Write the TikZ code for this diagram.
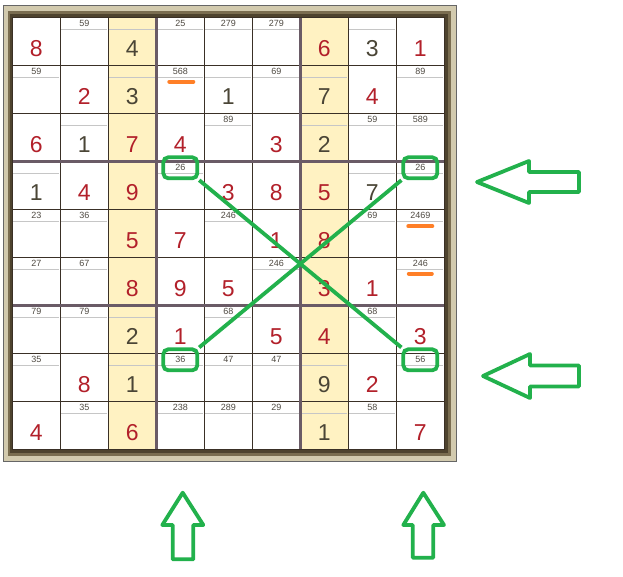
\documentclass[tikz,border=0pt]{standalone}
\usepackage{fontspec}
\setmainfont{Liberation Sans}

\definecolor{solvedred}{HTML}{B2202A}
\definecolor{givengray}{HTML}{4A4536}
\definecolor{candgray}{HTML}{4F4A42}
\definecolor{pairgreen}{HTML}{22B14C}
\definecolor{markorange}{HTML}{FF7F27}
\definecolor{colyellow}{HTML}{FFF2C2}
\definecolor{boxline}{HTML}{6A5B66}
\definecolor{cellline}{HTML}{3A3026}
\definecolor{framelight}{HTML}{D2CAAE}
\definecolor{framedark}{HTML}{7A6D50}
\definecolor{framedeep}{HTML}{4E432E}

\begin{document}
\begin{tikzpicture}[x=1pt, y=-1pt,
    solved/.style={text=solvedred, inner sep=0pt, font=\fontsize{23}{23}\selectfont},
    given/.style={text=givengray, inner sep=0pt, font=\fontsize{23}{23}\selectfont},
    cand/.style={text=candgray, inner sep=0pt, font=\fontsize{9}{9}\selectfont},
    candline/.style={draw=gray!45, line width=1pt},
    thinline/.style={draw=cellline, line width=1.3pt},
    thickline/.style={draw=boxline, line width=2.6pt},
    pairbox/.style={draw=pairgreen, line width=3.8pt, rounded corners=5pt,
        minimum width=34pt, minimum height=21pt, inner sep=0pt},
    pairline/.style={draw=pairgreen, line width=3.8pt},
    oddmark/.style={draw=markorange, line width=4pt, line cap=round},
    hintarrow/.style={draw=pairgreen, line width=3.8pt, line join=round, fill=white}]

    \useasboundingbox (0,0) rectangle (623,576);
    \def\gx{12.3}
    \def\gy{17.3}
    \def\cs{48}

    % Frame round the board
    \fill[framelight, draw=gray!80!black, line width=0.8pt] (3,5.5) rectangle (456,461);
    \fill[framedark] (8,11) rectangle (450.7,456);
    \fill[framedeep] (10,14) rectangle (447.5,452.5);
    \fill[white] (\gx,\gy) rectangle ++(432,432);

    % Shaded columns
    \fill[colyellow] ({\gx+2*\cs},\gy) rectangle ++(\cs,432);
    \fill[colyellow] ({\gx+6*\cs},\gy) rectangle ++(\cs,432);

    % Candidates
    \foreach \row/\col/\val in {0/1/59, 0/3/25, 0/4/279, 0/5/279, 1/0/59, 1/3/568,
        1/5/69, 1/8/89, 2/4/89, 2/7/59, 2/8/589, 3/3/26, 3/8/26, 4/0/23, 4/1/36,
        4/4/246, 4/7/69, 4/8/2469, 5/0/27, 5/1/67, 5/5/246, 5/8/246, 6/0/79,
        6/1/79, 6/4/68, 6/7/68, 7/0/35, 7/3/36, 7/4/47, 7/5/47, 7/8/56, 8/1/35,
        8/3/238, 8/4/289, 8/5/29, 8/7/58} {
        \draw[candline] ({\gx+\cs*\col+1},{\gy+\cs*\row+12}) -- ++(46,0);
        \node[cand] (k\row\col) at ({\gx+\cs*\col+24},{\gy+\cs*\row+6.5}) {\val};
    }

    % Given digits
    \foreach \row/\col/\val in {0/2/4, 0/7/3, 1/2/3, 1/4/1, 1/6/7, 2/1/1, 2/6/2,
        3/0/1, 3/7/7, 6/2/2, 7/2/1, 7/6/9, 8/6/1} {
        \draw[candline] ({\gx+\cs*\col+1},{\gy+\cs*\row+12}) -- ++(46,0);
        \node[given] (d\row\col) at ({\gx+\cs*\col+24},{\gy+\cs*\row+31}) {\val};
    }

    % Solved digits
    \foreach \row/\col/\val in {0/0/8, 0/6/6, 0/8/1, 1/1/2, 1/7/4, 2/0/6, 2/2/7,
        2/3/4, 2/5/3, 3/1/4, 3/2/9, 3/4/3, 3/5/8, 3/6/5, 4/2/5, 4/3/7, 4/5/1,
        4/6/8, 5/2/8, 5/3/9, 5/4/5, 5/6/3, 5/7/1, 6/3/1, 6/5/5, 6/6/4, 6/8/3,
        7/1/8, 7/7/2, 8/0/4, 8/2/6, 8/8/7} {
        \node[solved] (d\row\col) at ({\gx+\cs*\col+24},{\gy+\cs*\row+31}) {\val};
    }

    % Grid lines
    \foreach \i in {1,2,4,5,7,8} {
        \draw[thinline] ({\gx+\cs*\i},\gy) -- ++(0,432);
        \draw[thinline] (\gx,{\gy+\cs*\i}) -- ++(432,0);
    }
    \foreach \i in {3,6} {
        \draw[thickline] ({\gx+\cs*\i},\gy) -- ++(0,432);
        \draw[thickline] (\gx,{\gy+\cs*\i}) -- ++(432,0);
    }
    \draw[thinline] (\gx,\gy) rectangle ++(432,432);

    % Orange marks under candidates
    \draw[oddmark] ([xshift=-11pt,yshift=-6.5pt]k13.south) -- ([xshift=13pt,yshift=-6.5pt]k13.south);
    \draw[oddmark] ([xshift=-12pt,yshift=-7pt]k48.south) -- ([xshift=12pt,yshift=-7pt]k48.south);
    \draw[oddmark] ([xshift=-11.5pt,yshift=-6.5pt]k58.south) -- ([xshift=11.5pt,yshift=-6.5pt]k58.south);

    % Pair boxes
    \node[pairbox] (b33) at (k33) {};
    \node[pairbox] (b38) at (k38) {};
    \node[pairbox] (b73) at (k73) {};
    \node[pairbox] (b78) at (k78) {};

    % Cross between the pairs
    \draw[pairline] (b33.south east) -- (b78.north west);
    \draw[pairline] (b73.north east) -- (b38.south west);

    % Hint arrows
    \draw[hintarrow] (477,182) -- ++(52,-21) -- ++(0,11) -- ++(50,0) -- ++(0,20)
        -- ++(-50,0) -- ++(0,11) -- cycle;
    \draw[hintarrow] (483,376) -- ++(47,-22) -- ++(0,11.5) -- ++(49,0) -- ++(0,21)
        -- ++(-49,0) -- ++(0,11.5) -- cycle;
    \draw[hintarrow] (182.7,492.7) -- ++(20.6,32.3) -- ++(-10,0) -- ++(0,34.3)
        -- ++(-20.6,0) -- ++(0,-34.3) -- ++(-10.4,0) -- cycle;
    \draw[hintarrow] (423.3,492.7) -- ++(20.7,32.3) -- ++(-10.7,0) -- ++(0,32.7)
        -- ++(-20.6,0) -- ++(0,-32.7) -- ++(-9.4,0) -- cycle;

\end{tikzpicture}
\end{document}
